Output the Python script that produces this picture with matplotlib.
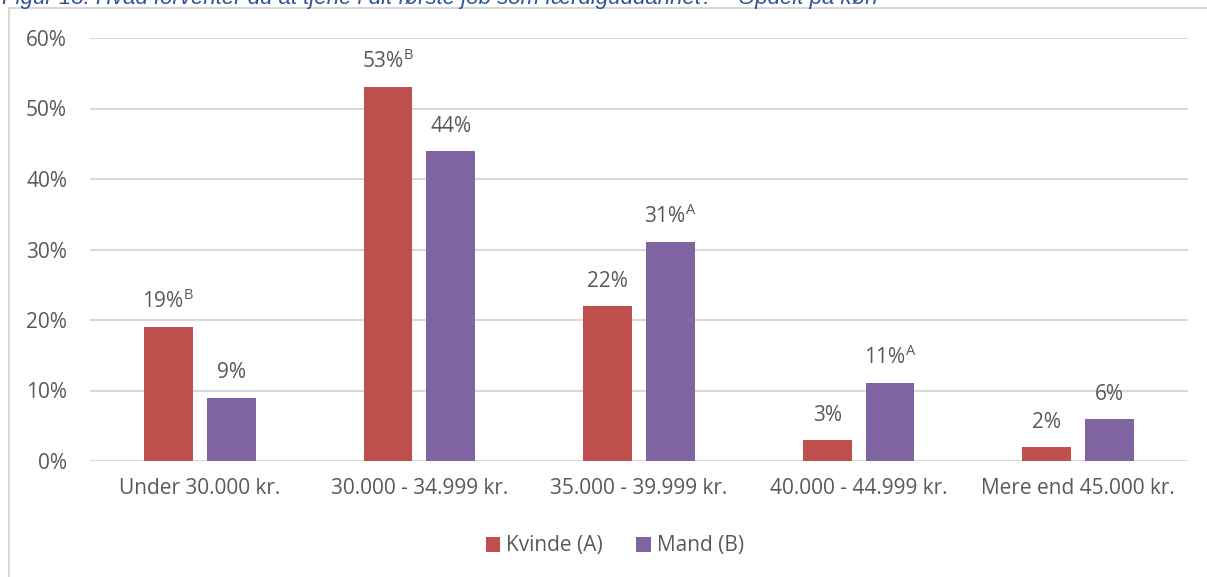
import numpy as np
import matplotlib.pyplot as plt
from matplotlib.patches import Rectangle

plt.rcParams['font.family'] = ['Open Sans', 'DejaVu Sans']
plt.rcParams['mathtext.fontset'] = 'custom'
plt.rcParams['mathtext.rm'] = 'Open Sans'

categories = ['Under 30.000 kr.', '30.000 - 34.999 kr.', '35.000 - 39.999 kr.',
              '40.000 - 44.999 kr.', 'Mere end 45.000 kr.']
kvinde = [19, 53, 22, 3, 2]
mand = [9, 44, 31, 11, 6]
kvinde_sup = ['B', 'B', '', '', '']
mand_sup = ['', '', 'A', 'A', '']

red = '#C0504D'
purple = '#8064A2'
grey_txt = '#595959'

fig = plt.figure(figsize=(12.07, 5.77), dpi=100)
ax = fig.add_axes([90/1207, 1-461/577, 1098/1207, 423/577])

x = np.arange(len(categories))
w = 0.223
off = 0.143
ax.bar(x - off, kvinde, w, color=red, label='Kvinde (A)', zorder=3)
ax.bar(x + off, mand, w, color=purple, label='Mand (B)', zorder=3)

def lab(v, s):
    t = f'{v}%'
    if s:
        t += r'$^{\mathrm{' + s + '}}$'
    return t

fs = 15
for xi, v, s in zip(x - off, kvinde, kvinde_sup):
    ax.text(xi, v + 2.0, lab(v, s), ha='center', va='bottom', fontsize=fs, color=grey_txt)
for xi, v, s in zip(x + off, mand, mand_sup):
    ax.text(xi, v + 2.0, lab(v, s), ha='center', va='bottom', fontsize=fs, color=grey_txt)

ax.set_xlim(-0.5, len(categories) - 0.5)
ax.set_ylim(0, 60)
ax.set_yticks(range(0, 61, 10))
ax.set_yticklabels([f'{t}%' for t in range(0, 61, 10)])
ax.set_xticks(x)
ax.set_xticklabels(categories)
ax.tick_params(length=0, labelsize=fs, labelcolor=grey_txt)
ax.tick_params(axis='y', pad=16.5)
ax.tick_params(axis='x', pad=12)
ax.grid(axis='y', color='#D9D9D9', linewidth=1.5, zorder=0)
for sp in ax.spines.values():
    sp.set_visible(False)

ax.legend(loc='center', bbox_to_anchor=(615/1207, 1-546/577), bbox_transform=fig.transFigure,
          ncol=2, frameon=False, fontsize=fs, labelcolor=grey_txt,
          handlelength=0.7, handleheight=0.7, columnspacing=1.6, handletextpad=0.3)

fig.patches.append(Rectangle((9/1207, -0.1), 1.2, 1 - 8/577 + 0.1, transform=fig.transFigure,
                             fill=False, edgecolor='#D9D9D9', linewidth=1.5))

fig.text(2/1207, 1-4/577, 'Figur 13: Hvad forventer du at tjene i dit første job som færdiguddannet? – Opdelt på køn',
         fontsize=16, style='italic', color='#2F5496', va='baseline', ha='left',
         family=['Liberation Sans', 'DejaVu Sans'])

fig.savefig('out.png', dpi=100)
